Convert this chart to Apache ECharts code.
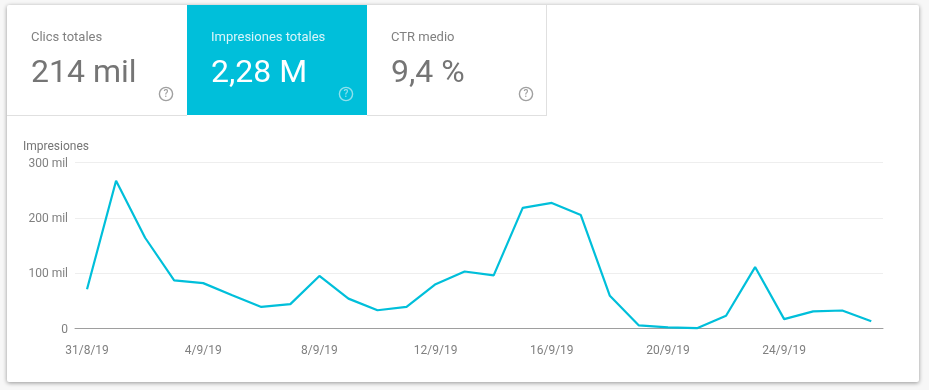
<!DOCTYPE html>
<html>
<head>
<meta charset="utf-8">
<style>html,body{margin:0;padding:0;background:#f7f7f7;overflow:hidden}#c{width:929px;height:390px}</style>
<script src="https://cdn.jsdelivr.net/npm/echarts@6/dist/echarts.min.js"></script>
</head>
<body>
<div id="c"></div>
<script>
const dates = ['31/8/19','1/9/19','2/9/19','3/9/19','4/9/19','5/9/19','6/9/19','7/9/19','8/9/19','9/9/19','10/9/19','11/9/19','12/9/19','13/9/19','14/9/19','15/9/19','16/9/19','17/9/19','18/9/19','19/9/19','20/9/19','21/9/19','22/9/19','23/9/19','24/9/19','25/9/19','26/9/19','27/9/19'];
const impressions = [71000,267000,164000,87000,82000,60000,39000,44000,95000,54000,33000,39000,80000,103000,96000,218000,227000,205000,59000,5500,2000,600,23000,111000,17000,31000,32500,13000];
const labelledDays = [0,4,8,12,16,20,24];
const tabNames = ['Clics totales','Impresiones totales','CTR medio'];
const tabValues = ['214 mil','2,28 M','9,4 %'];
const yTitle = 'Impresiones';

const font = 'Roboto';
const teal = '#00BFDA';
const tabX = [7,187,367];
const els = [
  {type:'rect',z:-10,shape:{x:7,y:5,width:912,height:377,r:2},style:{fill:'#fff',shadowBlur:4,shadowColor:'rgba(0,0,0,0.4)',shadowOffsetY:1}},
  {type:'rect',z:-9,shape:{x:187,y:5,width:180,height:110},style:{fill:teal}},
  {type:'line',z:-8,shape:{x1:7,y1:115.5,x2:187,y2:115.5},style:{stroke:'#e0e0e0',lineWidth:1}},
  {type:'line',z:-8,shape:{x1:367,y1:115.5,x2:547,y2:115.5},style:{stroke:'#e0e0e0',lineWidth:1}},
  {type:'line',z:-8,shape:{x1:546.5,y1:5,x2:546.5,y2:116},style:{stroke:'#e0e0e0',lineWidth:1}},
  {type:'text',x:23,y:146.5,style:{text:yTitle,font:'12px '+font,fill:'#757575',verticalAlign:'middle'}}
];
tabNames.forEach((n,i)=>{
  const on = i===1, x = tabX[i];
  els.push({type:'text',x:x+24,y:38,style:{text:n,font:'13px '+font,fill:on?'#d9f5fa':'#808080',verticalAlign:'middle'}});
  els.push({type:'text',x:x+24,y:74,style:{text:tabValues[i],font:'32px '+font,fill:on?'#fff':'#757575',verticalAlign:'middle'}});
  els.push({type:'circle',shape:{cx:x+159,cy:94,r:6.6},style:{fill:'none',stroke:on?'#8fe0ec':'#a0a0a0',lineWidth:1.4}});
  els.push({type:'text',x:x+159,y:94.5,style:{text:'?',font:'500 10px '+font,fill:on?'#8fe0ec':'#a0a0a0',align:'center',verticalAlign:'middle'}});
});

const chart = echarts.init(document.getElementById('c'),null,{renderer:'canvas'});
chart.setOption({
  animation:false,
  graphic:{elements:els},
  grid:{left:75,right:46,top:162.5,height:166,containLabel:false},
  xAxis:{
    type:'value',
    min:-12/29,
    max:27+11.7/29,
    splitLine:{show:false},
    axisLine:{show:true,onZero:false,lineStyle:{color:'#9e9e9e',width:1}},
    axisTick:{show:false},
    axisLabel:{
      customValues:labelledDays,
      formatter:v=>dates[v],
      color:'#808080',fontFamily:font,fontSize:12,margin:16,hideOverlap:false,showMinLabel:true,showMaxLabel:true
    }
  },
  yAxis:{
    type:'value',min:0,max:300000,interval:100000,
    axisLine:{show:false},axisTick:{show:false},
    splitLine:{lineStyle:{color:'#eeeeee',width:1}},
    axisLabel:{
      margin:7,color:'#808080',fontFamily:font,fontSize:12,verticalAlign:'top',lineHeight:2,
      formatter:v=>v===0?'0':(v/1000)+' mil'
    }
  },
  series:[{
    type:'line',
    name:yTitle,
    data:impressions.map((v,i)=>[i,v]),
    showSymbol:false,
    smooth:false,
    clip:false,
    lineStyle:{color:teal,width:2.2}
  }]
});
</script>
</body>
</html>
